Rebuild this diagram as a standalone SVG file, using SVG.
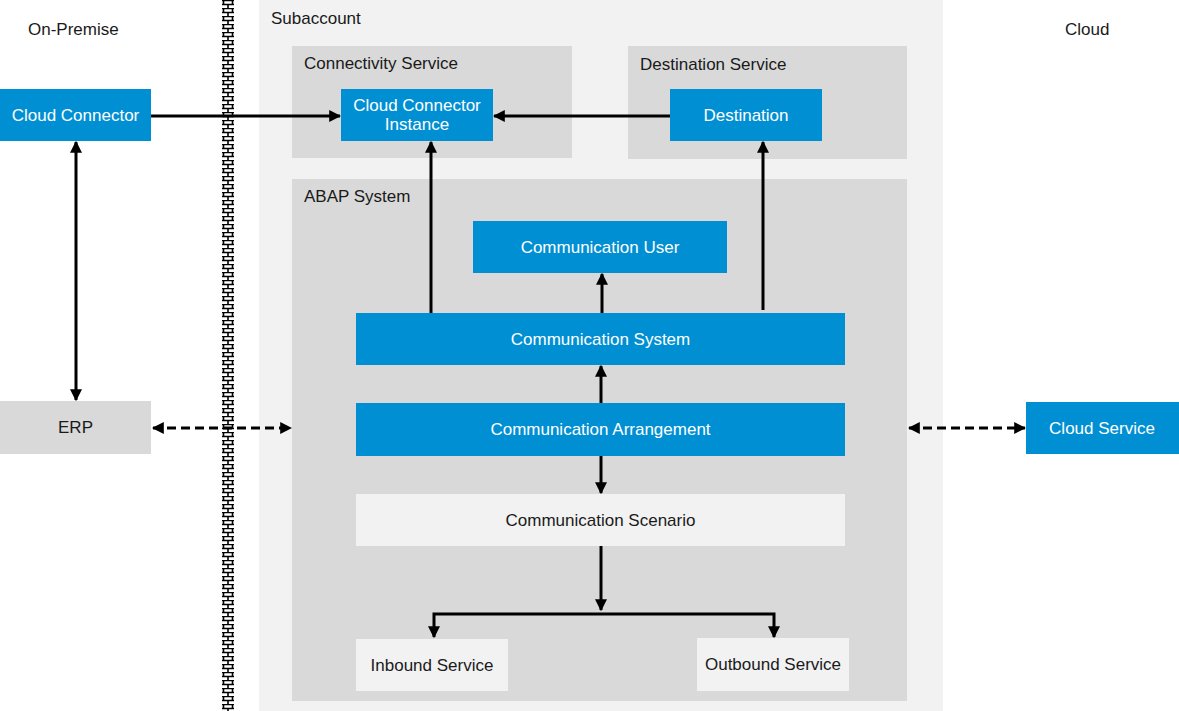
<svg xmlns="http://www.w3.org/2000/svg" width="1179" height="711" viewBox="0 0 1179 711">
<style>
text{font-family:"Liberation Sans",Arial,sans-serif;font-size:17px;}
.lbl{fill:#1a1a1a;}
.wt{fill:#ffffff;text-anchor:middle;}
.dk{fill:#1a1a1a;text-anchor:middle;}
.blue{fill:#008fd3;}
.grey{fill:#d9d9d9;}
.light{fill:#f2f2f2;}
.ln{stroke:#000;stroke-width:3;fill:none;}
.dash{stroke:#000;stroke-width:3;fill:none;stroke-dasharray:9 5;}
</style>
<defs>
<marker id="ah" viewBox="0 0 10 10" refX="9" refY="5" markerWidth="4" markerHeight="4" orient="auto-start-reverse" markerUnits="strokeWidth">
<path d="M0,0 L10,5 L0,10 Z" fill="#000"/>
</marker>
<pattern id="brick" x="221" y="0" width="14" height="8" patternUnits="userSpaceOnUse">
<path d="M1,0.5 H13 M1,4.5 H13 M2.5,0.5 V4.5 M11.5,0.5 V4.5 M7,4.5 V8.5" stroke="#000" stroke-width="1.6" fill="none"/>
</pattern>
</defs>
<rect x="0" y="0" width="1179" height="711" fill="#ffffff"/>
<g id="subaccount">
<rect x="259" y="0" width="684" height="711" class="light"/>
<text x="271" y="24" class="lbl">Subaccount</text>
</g>
<g id="wall">
<rect x="221" y="0" width="14" height="711" fill="url(#brick)"/>
</g>
<text x="28" y="35" class="lbl">On-Premise</text>
<text x="1065" y="35" class="lbl">Cloud</text>
<g id="connectivity-service">
<rect x="292" y="46" width="280" height="112" class="grey"/>
<text x="304" y="69" class="lbl">Connectivity Service</text>
</g>
<g id="destination-service">
<rect x="628" y="46" width="279" height="113" class="grey"/>
<text x="640" y="70" class="lbl">Destination Service</text>
</g>
<g id="abap-system">
<rect x="292" y="179" width="615" height="522" class="grey"/>
<text x="304" y="202" class="lbl">ABAP System</text>
</g>
<g id="cloud-connector-instance">
<rect x="341" y="89" width="152" height="52" class="blue"/>
<text x="417" y="111" class="wt">Cloud Connector</text>
<text x="417" y="130" class="wt">Instance</text>
</g>
<g id="destination">
<rect x="670" y="89" width="152" height="52" class="blue"/>
<text x="746" y="121" class="wt">Destination</text>
</g>
<g id="cloud-connector">
<rect x="0" y="89" width="151" height="52" class="blue"/>
<text x="75.5" y="121" class="wt">Cloud Connector</text>
</g>
<g id="erp">
<rect x="0" y="401" width="151" height="53" class="grey"/>
<text x="75.5" y="433" class="dk">ERP</text>
</g>
<g id="cloud-service">
<rect x="1026" y="402" width="153" height="52" class="blue"/>
<text x="1102" y="434" class="wt">Cloud Service</text>
</g>
<g id="communication-user">
<rect x="473" y="221" width="254" height="52" class="blue"/>
<text x="600" y="253" class="wt">Communication User</text>
</g>
<g id="communication-system">
<rect x="356" y="313" width="489" height="52" class="blue"/>
<text x="600.5" y="345" class="wt">Communication System</text>
</g>
<g id="communication-arrangement">
<rect x="356" y="403" width="489" height="53" class="blue"/>
<text x="600.5" y="435" class="wt">Communication Arrangement</text>
</g>
<g id="communication-scenario">
<rect x="356" y="494" width="489" height="52" class="light"/>
<text x="600.5" y="526" class="dk">Communication Scenario</text>
</g>
<g id="inbound-service">
<rect x="356" y="639" width="152" height="52" class="light"/>
<text x="432" y="671" class="dk">Inbound Service</text>
</g>
<g id="outbound-service">
<rect x="697" y="638" width="152" height="53" class="light"/>
<text x="773" y="670" class="dk">Outbound Service</text>
</g>
<g id="connectors">
<path class="ln" d="M151,116 H340" marker-end="url(#ah)"/>
<path class="ln" d="M670,116 H494" marker-end="url(#ah)"/>
<path class="ln" d="M431,313 V142" marker-end="url(#ah)"/>
<path class="ln" d="M763,310 V142" marker-end="url(#ah)"/>
<path class="ln" d="M602,313 V274" marker-end="url(#ah)"/>
<path class="ln" d="M601,403 V366" marker-end="url(#ah)"/>
<path class="ln" d="M601,456 V493" marker-end="url(#ah)"/>
<path class="ln" d="M601,546 V610" marker-end="url(#ah)"/>
<path class="ln" d="M434,637 V614 H774 V637" marker-start="url(#ah)" marker-end="url(#ah)"/>
<path class="ln" d="M76,142 V400" marker-start="url(#ah)" marker-end="url(#ah)"/>
<path class="dash" d="M153,428 H291" marker-start="url(#ah)" marker-end="url(#ah)"/>
<path class="dash" d="M909,428 H1025" marker-start="url(#ah)" marker-end="url(#ah)"/>
</g>
</svg>
